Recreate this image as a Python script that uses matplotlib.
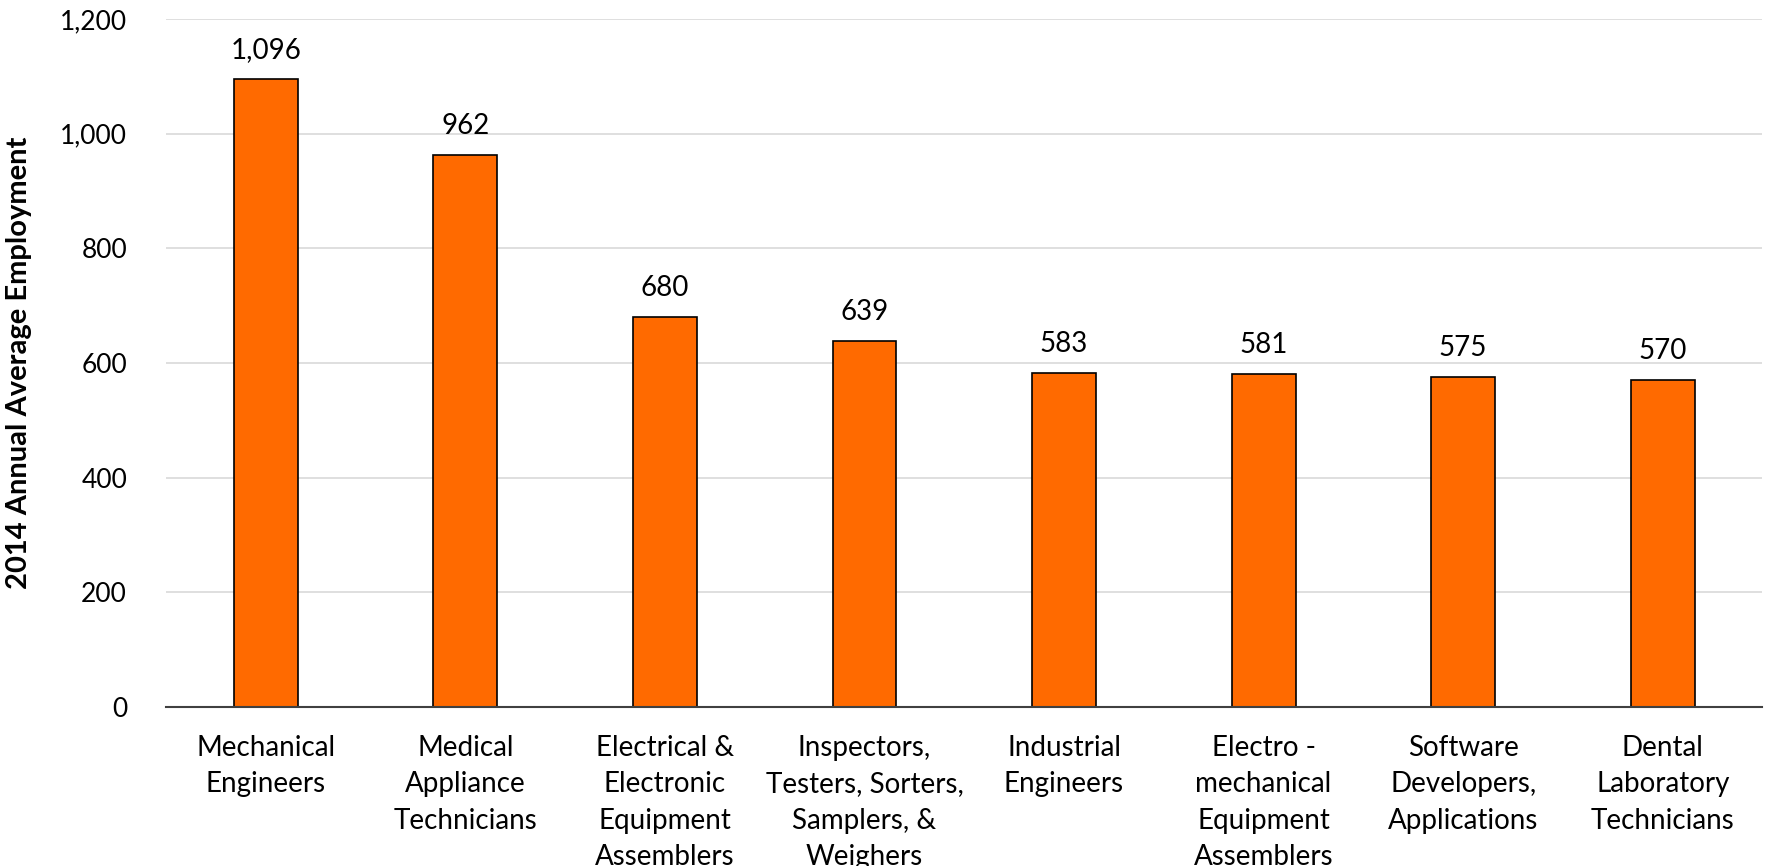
import matplotlib.pyplot as plt
import numpy as np

plt.rcParams['font.family'] = ['Lato', 'DejaVu Sans']

# Datos
ocupaciones = ['Mechanical\nEngineers', 'Medical\nAppliance\nTechnicians',
               'Electrical &\nElectronic\nEquipment\nAssemblers',
               'Inspectors,\nTesters, Sorters,\nSamplers, &\nWeighers',
               'Industrial\nEngineers', 'Electro -\nmechanical\nEquipment\nAssemblers',
               'Software\nDevelopers,\nApplications', 'Dental\nLaboratory\nTechnicians']
empleo = [1096, 962, 680, 639, 583, 581, 575, 570]

fig = plt.figure(figsize=(17.66, 8.66), dpi=100)
ax = fig.add_axes([0.094, 0.1836, 0.904, 0.7944])

x = np.arange(len(ocupaciones))
ax.bar(x, empleo, width=0.32, color='#FF6A00', edgecolor='black', linewidth=1.2, zorder=3)

for i, v in enumerate(empleo):
    ax.text(i, v + 28, f'{v:,}', ha='center', va='bottom', fontsize=20)

ax.set_xlim(-0.5, len(ocupaciones) - 0.5)
ax.set_ylim(0, 1200)
ax.set_yticks(range(0, 1201, 200))
ax.set_yticklabels([f'{t:,}' for t in range(0, 1201, 200)], fontsize=19)
ax.set_xticks(x)
ax.set_xticklabels(ocupaciones, fontsize=20, linespacing=1.5)
ax.tick_params(axis='both', length=0)
ax.tick_params(axis='x', pad=20)
ax.tick_params(axis='y', pad=28)
ax.grid(True, axis='y', color='#d9d9d9', linewidth=1.2, zorder=0)
for s in ['left', 'right', 'top']:
    ax.spines[s].set_visible(False)
ax.spines['bottom'].set_color('#404040')
ax.spines['bottom'].set_linewidth(1.5)
ax.spines['bottom'].set_zorder(4)

ax.set_ylabel('2014 Annual Average Employment', fontsize=21, fontweight='bold', labelpad=20)

fig.savefig('out.png', dpi=100)
